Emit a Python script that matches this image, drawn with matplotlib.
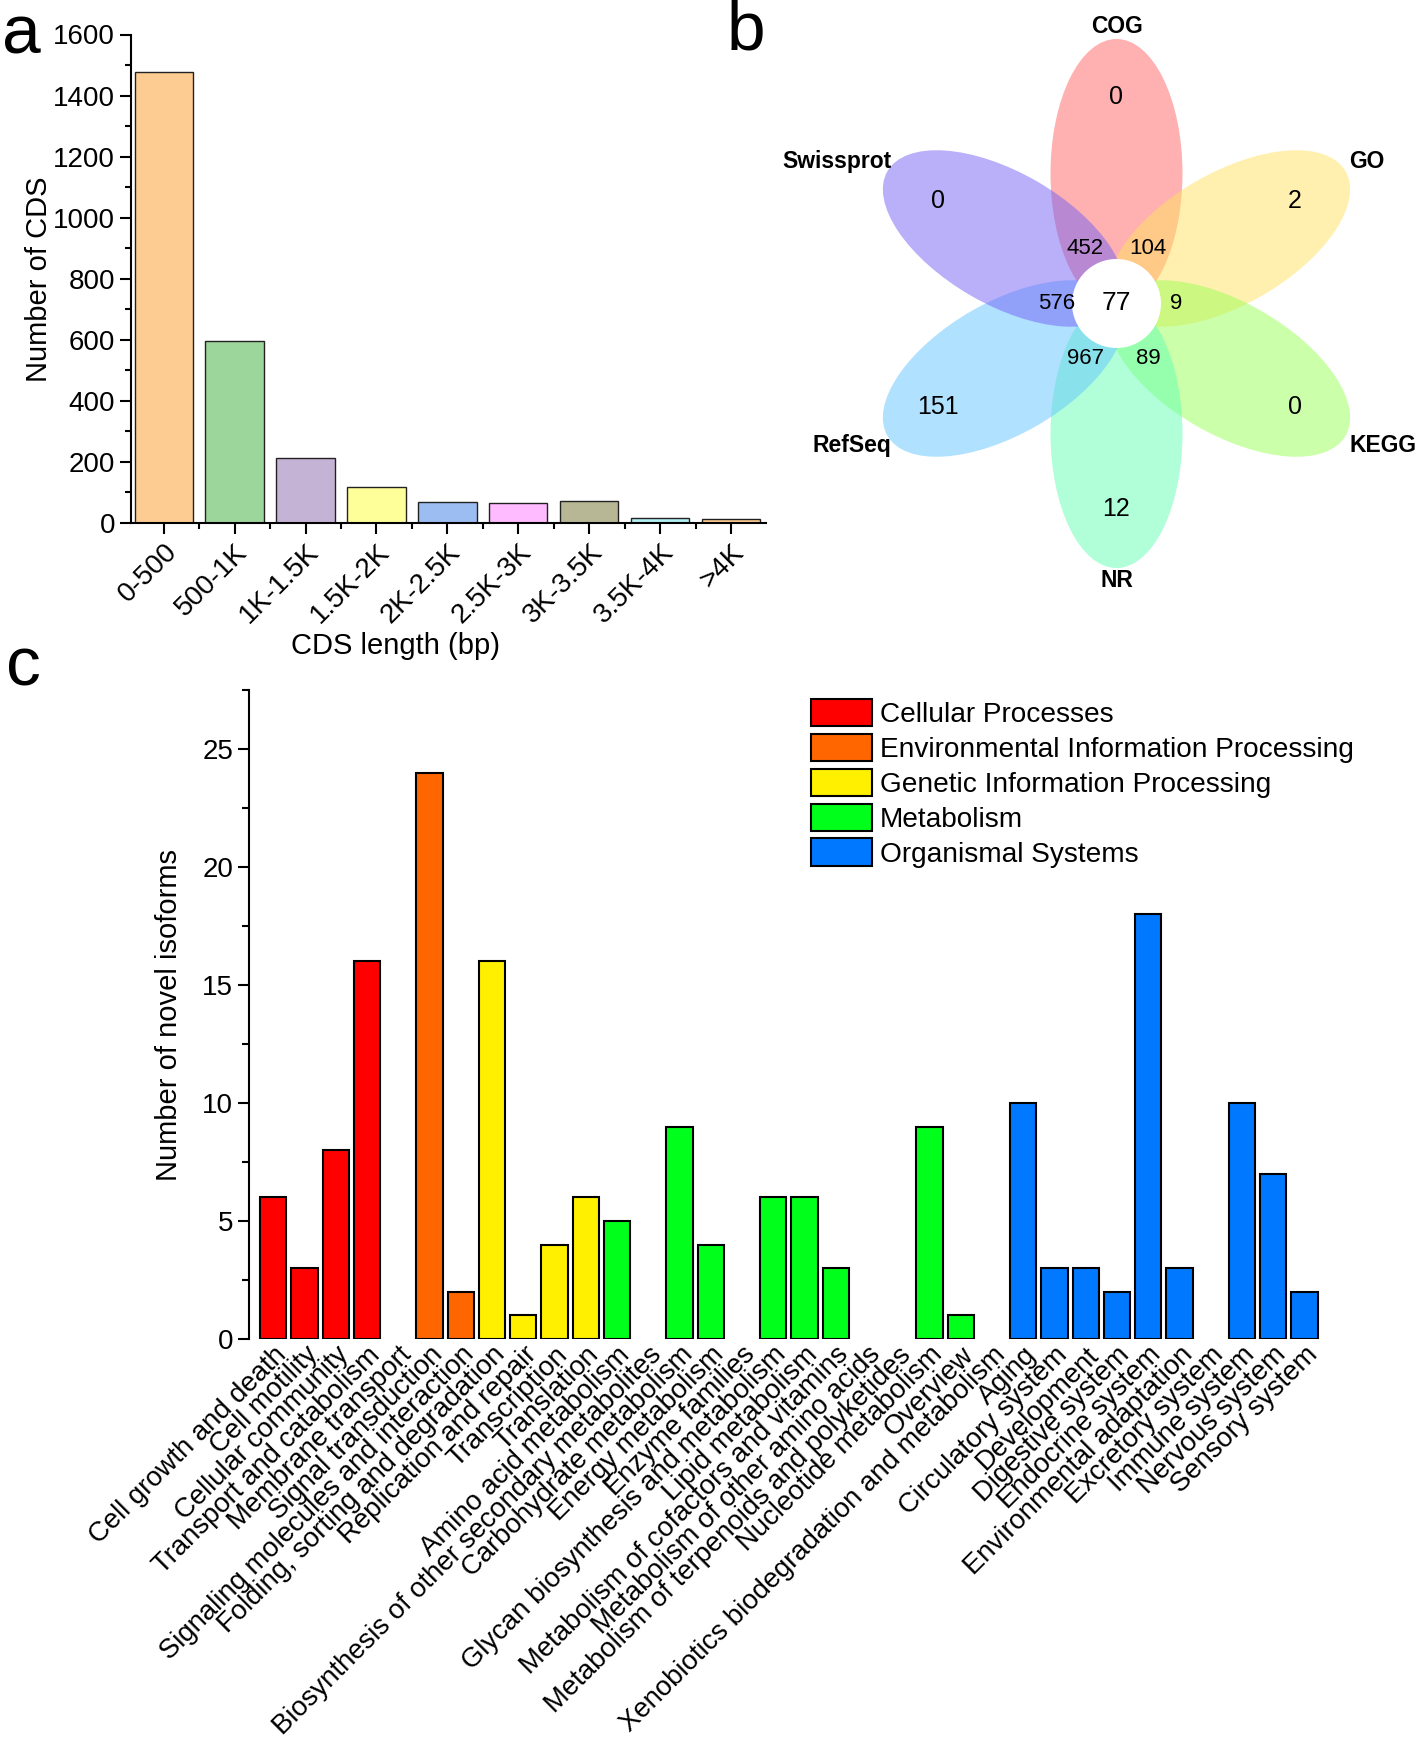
import numpy as np
import matplotlib
matplotlib.use("Agg")
import matplotlib.pyplot as plt
from matplotlib.patches import Ellipse, Circle, Patch
from matplotlib.ticker import MultipleLocator

plt.rcParams['font.family'] = ['Liberation Sans', 'DejaVu Sans']

# ---- panel a data
cds_bins = ["0-500", "500-1K", "1K-1.5K", "1.5K-2K", "2K-2.5K", "2.5K-3K", "3K-3.5K", "3.5K-4K", ">4K"]
cds_counts = [1478, 596, 212, 118, 70, 66, 72, 18, 14]
cds_colors = ["#FDCC92", "#9DD69A", "#C5B3D6", "#FFFF99", "#9CBDF2", "#FFBBFF", "#B7B795", "#B3EFF2", "#FDCC92"]

# ---- panel b data
venn_names = ["COG", "GO", "KEGG", "NR", "RefSeq", "Swissprot"]
venn_unique = [0, 2, 0, 12, 151, 0]
venn_pairs = [104, 9, 89, 967, 576, 452]   # between neighbouring petals (clockwise from COG)
venn_core = 77
venn_colors = ["#FF6262", "#FFE262", "#9AFF54", "#62FFB2", "#62C4FF", "#7462F5"]

# ---- panel c data
kegg_terms = ["Cell growth and death", "Cell motility", "Cellular community", "Transport and catabolism",
              "Membrane transport", "Signal transduction", "Signaling molecules and interaction",
              "Folding, sorting and degradation", "Replication and repair", "Transcription", "Translation",
              "Amino acid metabolism", "Biosynthesis of other secondary metabolites", "Carbohydrate metabolism",
              "Energy metabolism", "Enzyme families", "Glycan biosynthesis and metabolism", "Lipid metabolism",
              "Metabolism of cofactors and vitamins", "Metabolism of other amino acids",
              "Metabolism of terpenoids and polyketides", "Nucleotide metabolism", "Overview",
              "Xenobiotics biodegradation and metabolism", "Aging", "Circulatory system", "Development",
              "Digestive system", "Endocrine system", "Environmental adaptation", "Excretory system",
              "Immune system", "Nervous system", "Sensory system"]
kegg_counts = [6, 3, 8, 16, 0, 24, 2, 16, 1, 4, 6, 5, 0, 9, 4, 0, 6, 6, 3, 0, 0, 9, 1, 0,
               10, 3, 3, 2, 18, 3, 0, 10, 7, 2]
kegg_groups = ["Cellular Processes"] * 5 + ["Environmental Information Processing"] * 2 + \
              ["Genetic Information Processing"] * 4 + ["Metabolism"] * 13 + ["Organismal Systems"] * 10
group_names = ["Cellular Processes", "Environmental Information Processing", "Genetic Information Processing",
               "Metabolism", "Organismal Systems"]
group_colors = ["#FF0000", "#FF6600", "#FFF000", "#00FF1A", "#0078FF"]

W, H = 1418, 1745
fig = plt.figure(figsize=(W / 100, H / 100), dpi=100)

def box(l, t, r, b):
    return [l / W, 1 - b / H, (r - l) / W, (b - t) / H]

# ================= panel a
ax = fig.add_axes(box(131, 34.5, 766, 523))
xa = np.arange(len(cds_bins))
ax.bar(xa, cds_counts, width=0.82, color=cds_colors, edgecolor="#222222", linewidth=1.0)
ax.set_xlim(-0.46, 8.49)
ax.set_ylim(0, 1600)
ax.yaxis.set_major_locator(MultipleLocator(200))
ax.yaxis.set_minor_locator(MultipleLocator(100))
ax.set_xticks(xa)
ax.set_xticks(xa[:-1] + 0.5, minor=True)
ax.set_xticklabels(cds_bins, rotation=45, ha="right", va="top", rotation_mode="anchor", fontsize=20)
ax.tick_params(axis="y", labelsize=20)
ax.tick_params(which="major", length=8, width=1.5, direction="out")
ax.tick_params(which="minor", length=4, width=1.5, direction="out")
for s in ["top", "right"]:
    ax.spines[s].set_visible(False)
for s in ["left", "bottom"]:
    ax.spines[s].set_linewidth(1.5)
ax.set_ylabel("Number of CDS", fontsize=21, labelpad=0)
ax.set_xlabel("CDS length (bp)", fontsize=21)
ax.xaxis.set_label_coords(0.416, -0.223)

# ================= panel b (flower venn)
axb = fig.add_axes(box(780, 0, 1418, 600))
axb.set_xlim(780, 1418)
axb.set_ylim(600, 0)
axb.axis("off")
cx, cy = 1116.5, 303.5
angles = [90, 30, -30, -90, -150, 150]
for name, val, col, ang in zip(venn_names, venn_unique, venn_colors, angles):
    t = np.deg2rad(ang)
    ex, ey = cx + 130 * np.cos(t), cy - 130 * np.sin(t)
    axb.add_patch(Ellipse((ex, ey), 269, 132, angle=-ang, facecolor=col, alpha=0.5, edgecolor="none"))
    axb.text(cx + 206 * np.cos(t), cy - 206 * np.sin(t), str(val), ha="center", va="center", fontsize=18)
    if ang in (90, -90):
        axb.text(cx, cy - 277 * np.sin(t), name, ha="center", va="center", fontsize=16.5, fontweight="bold")
    else:
        right = np.cos(t) > 0
        axb.text(cx + (233 if right else -225), cy - 142 * np.sign(np.sin(t)), name,
                 ha="left" if right else "right", va="center", fontsize=16.5, fontweight="bold")
for val, ang in zip(venn_pairs, [60, 0, -60, -120, 180, 120]):
    t = np.deg2rad(ang)
    r = 60 if ang in (0, 180) else 63
    axb.text(cx + r * np.cos(t), cy - r * np.sin(t), str(val), ha="center", va="center", fontsize=16)
axb.add_patch(Circle((cx, cy), 44.5, facecolor="white", edgecolor="none"))
axb.text(cx, cy, str(venn_core), ha="center", va="center", fontsize=19)

# ================= panel c
axc = fig.add_axes(box(249, 690, 1320, 1339))
xc = np.arange(len(kegg_terms))
cmap = dict(zip(group_names, group_colors))
axc.bar(xc, kegg_counts, width=0.84, color=[cmap[g] for g in kegg_groups], edgecolor="black",
        linewidth=[1.5 if v > 0 else 0 for v in kegg_counts])
axc.set_xlim(-0.78, 33.5)
axc.set_ylim(0, 27.5)
axc.yaxis.set_major_locator(MultipleLocator(5))
axc.yaxis.set_minor_locator(MultipleLocator(2.5))
axc.set_xticks(xc)
axc.set_xticklabels(kegg_terms, rotation=45, ha="right", va="top", rotation_mode="anchor", fontsize=19.8)
axc.tick_params(axis="x", length=0, pad=2)
axc.tick_params(axis="y", which="major", length=8, width=1.5, labelsize=20)
axc.tick_params(axis="y", which="minor", length=5, width=1.5)
for s in ["top", "right", "bottom"]:
    axc.spines[s].set_visible(False)
axc.spines["left"].set_linewidth(1.5)
axc.set_ylabel("Number of novel isoforms", fontsize=21, labelpad=14)
handles = [Patch(facecolor=c, edgecolor="black", linewidth=1.5) for c in group_colors]
fig.legend(handles, group_names, loc="upper left", bbox_to_anchor=(811 / W, 1 - 699 / H), frameon=False,
           fontsize=20.2, handlelength=2.18, handleheight=1.13, labelspacing=0.2, handletextpad=0.28,
           borderpad=0, borderaxespad=0)

# panel letters
fig.text(2 / W, 1 - 4 / H, "a", fontsize=50, va="top", ha="left")
fig.text(727 / W, 1 - 0 / H, "b", fontsize=50, va="top", ha="left")
fig.text(6 / W, 1 - 636 / H, "c", fontsize=50, va="top", ha="left")

fig.savefig("out.png", dpi=100)
